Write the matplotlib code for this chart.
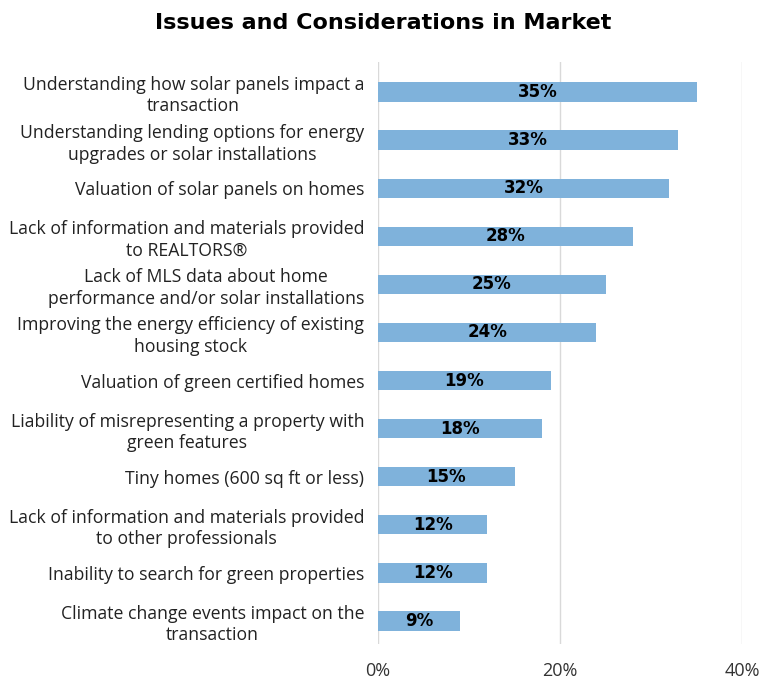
import matplotlib
matplotlib.use("Agg")
import matplotlib.pyplot as plt

plt.rcParams['font.family'] = ['Open Sans', 'DejaVu Sans']

# data
categories = [
    "Understanding how solar panels impact a\ntransaction",
    "Understanding lending options for energy\nupgrades or solar installations",
    "Valuation of solar panels on homes",
    "Lack of information and materials provided\nto REALTORS®",
    "Lack of MLS data about home\nperformance and/or solar installations",
    "Improving the energy efficiency of existing\nhousing stock",
    "Valuation of green certified homes",
    "Liability of misrepresenting a property with\ngreen features",
    "Tiny homes (600 sq ft or less)",
    "Lack of information and materials provided\nto other professionals",
    "Inability to search for green properties",
    "Climate change events impact on the\ntransaction",
]
values = [35, 33, 32, 28, 25, 24, 19, 18, 15, 12, 12, 9]
xticks = [0, 20, 40]
xtick_labels = ["0%", "20%", "40%"]

fig = plt.figure(figsize=(7.7, 6.83), dpi=100)
ax = fig.add_axes([0.491, 0.057, 0.4727, 0.852])

pos = list(range(len(categories)))
ax.barh(pos, values, height=0.40, color='#7FB2DB', zorder=2)

for p, v in zip(pos, values):
    ax.text(v / 2, p, f"{v}%", ha='center', va='center', family='DejaVu Sans',
            fontsize=12, fontweight='bold', color='black', zorder=3)

ax.set_xlim(0, 40)
ax.set_ylim(11.48, -0.62)
ax.set_xticks(xticks)
ax.set_xticklabels(xtick_labels, fontsize=13, color='#333333')
ax.set_yticks(pos)
ax.set_yticklabels(categories, fontsize=12.7, color='#222222',
                   multialignment='center', linespacing=1.25)
ax.tick_params(axis='both', length=0)
ax.tick_params(axis='y', pad=10)
ax.tick_params(axis='x', pad=13)

ax.grid(axis='x', color='#D9D9D9', linewidth=1, zorder=0)
for s in ax.spines.values():
    s.set_visible(False)

fig.text(0.497, 0.966, "Issues and Considerations in Market", ha='center', va='center',
         family='DejaVu Sans', fontsize=16, fontweight='bold', color='black')

fig.savefig("out.png", dpi=100)
